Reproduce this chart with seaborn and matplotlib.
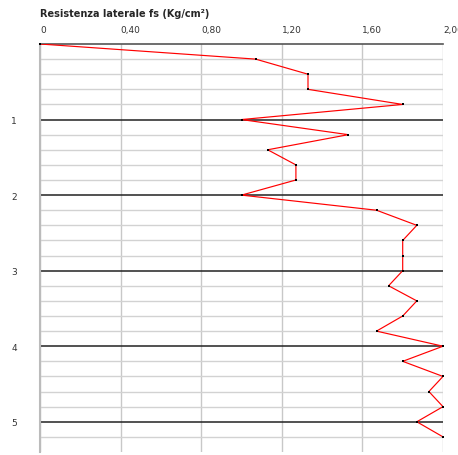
import numpy as np
import seaborn as sns
import matplotlib.pyplot as plt
from matplotlib.ticker import FixedLocator

# depth (m) and lateral resistance fs (Kg/cm²)
depth = [0.0, 0.2, 0.4, 0.6, 0.8, 1.0, 1.2, 1.4, 1.6, 1.8, 2.0, 2.2, 2.4, 2.6,
         2.8, 3.0, 3.2, 3.4, 3.6, 3.8, 4.0, 4.2, 4.4, 4.6, 4.8, 5.0, 5.2]
fs = [0.00, 1.07, 1.33, 1.33, 1.80, 1.00, 1.53, 1.13, 1.27, 1.27, 1.00, 1.67,
      1.87, 1.80, 1.80, 1.80, 1.73, 1.87, 1.80, 1.67, 2.00, 1.80, 2.00, 1.93,
      2.00, 1.87, 2.00]
x_ticks = [0, 0.4, 0.8, 1.2, 1.6, 2.0]
x_labels = ["0", "0,40", "0,80", "1,20", "1,60", "2,00"]
y_major = [1, 2, 3, 4, 5]

sns.set_style("white")
plt.rcParams['font.family'] = ['DejaVu Sans']

fig = plt.figure(figsize=(4.58, 4.56), dpi=100)
ax = fig.add_axes([40 / 458, 1 - 453 / 456, 403 / 458, 408 / 456])

ax.set_xlim(0, 2.0)
ax.set_ylim(5.4, 0)

# grid
for xv in x_ticks:
    ax.axvline(xv, color="#c8c8c8", lw=1.0, zorder=1)
for yv in np.arange(0.2, 5.4, 0.2):
    if abs(yv - round(yv)) > 1e-6:
        ax.axhline(yv, color="#d2d2d2", lw=1.0, zorder=1)
for yv in y_major:
    ax.axhline(yv, color="#222222", lw=1.1, zorder=2)

sns.lineplot(x=fs, y=depth, sort=False, estimator=None, color="red",
             lw=0.85, ax=ax, zorder=3)
sns.scatterplot(x=fs, y=depth, color="black", s=4, marker="s",
                linewidth=0, ax=ax, zorder=4, clip_on=False)

ax.xaxis.tick_top()
ax.set_xticks(x_ticks)
ax.set_xticklabels(x_labels, ha="left", fontsize=6.5, color="#333333")
ax.tick_params(axis="x", length=0, pad=7)

ax.yaxis.set_major_locator(FixedLocator(y_major))
ax.set_yticklabels([str(v) for v in y_major], fontsize=6.5, color="#333333")
ax.tick_params(axis="y", length=13.5, width=1.1, color="#222222", pad=3)

for s in ["right", "bottom"]:
    ax.spines[s].set_visible(False)
ax.spines["top"].set_color("#555555")
ax.spines["top"].set_linewidth(1.2)
ax.spines["left"].set_color("#bbbbbb")
ax.spines["left"].set_linewidth(1.5)
ax.set_xlabel("")
ax.set_ylabel("")

fig.text(40 / 458, 1 - 14 / 456, "Resistenza laterale fs (Kg/cm²)",
         fontsize=7, fontweight="bold", va="center", ha="left")

fig.savefig("out.png", dpi=100)
